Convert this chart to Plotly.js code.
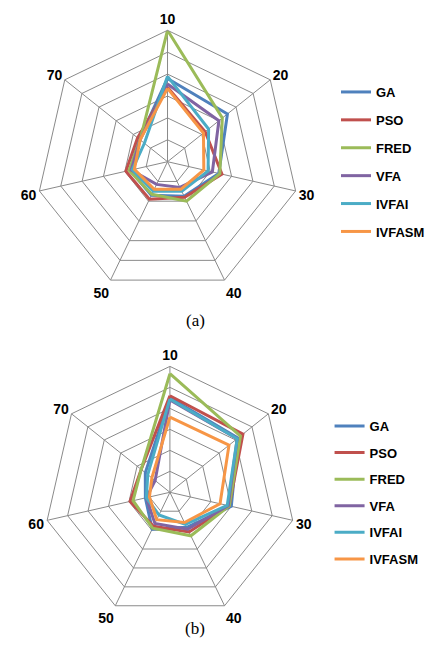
<!DOCTYPE html>
<html>
<head>
<meta charset="utf-8">
<script src="https://cdn.plot.ly/plotly-3.0.1.min.js"></script>
<style>html,body{margin:0;padding:0;background:#fff;}#chart{width:430px;height:659px;}</style>
</head>
<body>
<div id="chart"></div>
<script>
const categories = ['10', '20', '30', '40', '50', '60', '70'];
const seriesNames = ['GA', 'PSO', 'FRED', 'VFA', 'IVFAI', 'IVFASM'];
const seriesColors = ['#4F81BD', '#C0504D', '#9BBB59', '#8064A2', '#4BACC6', '#F79646'];

// Chart (a)
const a_GA     = [3.8, 3.5, 2.4, 1.75, 1.7, 1.75, 1.65];
const a_PSO    = [3.4, 2.2, 2.55, 1.8, 1.9, 1.95, 1.75];
const a_FRED   = [6.0, 3.2, 2.45, 2.0, 1.65, 1.8, 1.6];
const a_VFA    = [3.55, 3.0, 2.1, 1.3, 1.15, 1.7, 1.6];
const a_IVFAI  = [3.9, 2.4, 1.9, 1.5, 1.5, 1.65, 1.35];
const a_IVFASM = [3.35, 2.1, 1.7, 1.4, 1.4, 1.55, 1.6];

// Chart (b)
const b_GA     = [4.5, 4.15, 3.0, 1.85, 1.95, 1.2, 1.5];
const b_PSO    = [4.6, 4.45, 2.9, 2.1, 1.8, 1.95, 1.75];
const b_FRED   = [5.65, 4.3, 2.9, 2.3, 1.9, 1.8, 1.75];
const b_VFA    = [4.4, 4.1, 2.85, 1.95, 1.65, 1.15, 0.9];
const b_IVFAI  = [4.45, 4.1, 2.8, 1.7, 1.2, 1.15, 1.35];
const b_IVFASM = [3.58, 3.6, 2.45, 1.6, 1.45, 1.0, 1.1];

const captions = ['(a)', '(b)'];

const dataA = [a_GA, a_PSO, a_FRED, a_VFA, a_IVFAI, a_IVFASM];
const dataB = [b_GA, b_PSO, b_FRED, b_VFA, b_IVFAI, b_IVFASM];

function closed(arr) { return arr.concat([arr[0]]); }

const traces = [];
dataA.forEach((vals, i) => {
  traces.push({
    type: 'scatterpolar', mode: 'lines', subplot: 'polar',
    r: closed(vals), theta: closed(categories),
    name: seriesNames[i], legendgroup: 'a' + i, legend: 'legend',
    line: {color: seriesColors[i], width: 3}
  });
});
dataB.forEach((vals, i) => {
  traces.push({
    type: 'scatterpolar', mode: 'lines', subplot: 'polar2',
    r: closed(vals), theta: closed(categories),
    name: seriesNames[i], legendgroup: 'b' + i, legend: 'legend2',
    line: {color: seriesColors[i], width: 3}
  });
});

const gridCol = '#8a8a8a';
function polarCfg(xd, yd) {
  return {
    domain: {x: xd, y: yd},
    gridshape: 'linear',
    bgcolor: '#ffffff',
    radialaxis: {range: [0, 6], dtick: 1, showticklabels: false, ticks: '', showline: false,
                 gridcolor: gridCol, gridwidth: 1},
    angularaxis: {type: 'category', categoryarray: categories, rotation: 90, direction: 'clockwise',
                  showline: true, linecolor: gridCol, linewidth: 1, gridcolor: gridCol, gridwidth: 1,
                  ticks: '', tickfont: {family: 'Liberation Sans, Arial, sans-serif', size: 14, color: '#000', weight: 'bold'}}
  };
}

const legendFont = {family: 'Liberation Sans, Arial, sans-serif', size: 13, color: '#000', weight: 'bold'};

const layout = {
  width: 430, height: 659,
  margin: {l: 0, r: 0, t: 0, b: 0},
  paper_bgcolor: '#ffffff',
  showlegend: true,
  polar: polarCfg([0.0844, 0.6984], [0.5543, 0.9549]),
  polar2: polarCfg([0.1028, 0.6912], [0.0610, 0.4449]),
  legend: {x: 0.785, xanchor: 'left', y: 1 - 77 / 659, yanchor: 'top', font: legendFont,
           tracegroupgap: 8, bgcolor: 'rgba(0,0,0,0)', itemwidth: 30},
  legend2: {x: 0.770, xanchor: 'left', y: 1 - 411 / 659, yanchor: 'top', font: legendFont,
            tracegroupgap: 6.7, bgcolor: 'rgba(0,0,0,0)', itemwidth: 30},
  annotations: [
    {text: captions[0], xref: 'paper', yref: 'paper', x: 196 / 430, y: 1 - 320 / 659,
     showarrow: false, font: {family: 'Liberation Serif, Times New Roman, serif', size: 17, color: '#000'}},
    {text: captions[1], xref: 'paper', yref: 'paper', x: 196 / 430, y: 1 - 640 / 659,
     showarrow: false, font: {family: 'Liberation Serif, Times New Roman, serif', size: 17, color: '#000'}}
  ]
};

Plotly.newPlot('chart', traces, layout, {staticPlot: true, displayModeBar: false});
</script>
</body>
</html>
